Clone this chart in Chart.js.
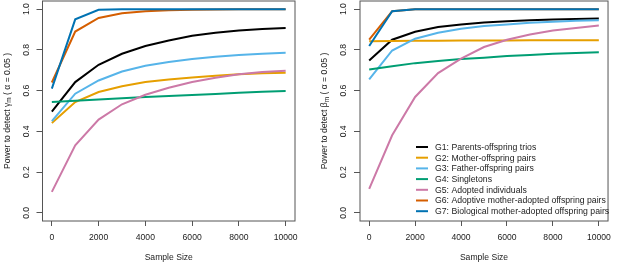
<html>
<head>
<title>Power curves</title>
<script src="https://cdn.jsdelivr.net/npm/chart.js"></script>
<style>
  body { margin: 0; background: #fff; }
  .panel { position: absolute; top: 0; height: 266px; }
  #left { left: 0; width: 308px; }
  #right { left: 308px; width: 309px; }
</style>
</head>
<body>
<div class="panel" id="left"><canvas id="chartGamma"></canvas></div>
<div class="panel" id="right"><canvas id="chartBeta"></canvas></div>
<script>
// sample sizes on the x axis
const sampleSizes = [0, 1000, 2000, 3000, 4000, 5000, 6000, 7000, 8000, 9000, 10000]
const xTicks = [0, 2000, 4000, 6000, 8000, 10000]
const yTicks = [0, 0.2, 0.4, 0.6, 0.8, 1.0]

const groupNames = [
  'G1: Parents-offspring trios',
  'G2: Mother-offspring pairs',
  'G3: Father-offspring pairs',
  'G4: Singletons',
  'G5: Adopted individuals',
  'G6: Adoptive mother-adopted offspring pairs',
  'G7: Biological mother-adopted offspring pairs'
]
const groupColors = ['#000000', '#E69F00', '#56B4E9', '#009E73', '#CC79A7', '#D55E00', '#0072B2']

// power to detect gamma_m (left)
const gammaG1 = [0.497, 0.642, 0.727, 0.781, 0.819, 0.846, 0.869, 0.884, 0.895, 0.903, 0.908]
const gammaG2 = [0.441, 0.544, 0.593, 0.621, 0.642, 0.655, 0.665, 0.673, 0.680, 0.685, 0.688]
const gammaG3 = [0.450, 0.585, 0.650, 0.694, 0.722, 0.740, 0.755, 0.766, 0.775, 0.781, 0.786]
const gammaG4 = [0.544, 0.550, 0.557, 0.563, 0.569, 0.574, 0.579, 0.584, 0.589, 0.594, 0.598]
const gammaG5 = [0.103, 0.332, 0.458, 0.533, 0.580, 0.614, 0.642, 0.663, 0.680, 0.691, 0.698]
const gammaG6 = [0.640, 0.890, 0.957, 0.980, 0.990, 0.995, 0.997, 0.998, 0.999, 1.000, 1.000]
const gammaG7 = [0.610, 0.950, 0.997, 1.000, 1.000, 1.000, 1.000, 1.000, 1.000, 1.000, 1.000]

// power to detect beta_m (right)
const betaG1 = [0.748, 0.850, 0.889, 0.912, 0.925, 0.935, 0.941, 0.946, 0.949, 0.952, 0.954]
const betaG2 = [0.843, 0.844, 0.845, 0.845, 0.846, 0.846, 0.846, 0.847, 0.847, 0.847, 0.847]
const betaG3 = [0.655, 0.797, 0.855, 0.884, 0.904, 0.917, 0.925, 0.933, 0.938, 0.943, 0.946]
const betaG4 = [0.704, 0.720, 0.735, 0.745, 0.755, 0.762, 0.770, 0.775, 0.781, 0.785, 0.789]
const betaG5 = [0.118, 0.381, 0.569, 0.686, 0.757, 0.814, 0.850, 0.876, 0.895, 0.908, 0.920]
const betaG6 = [0.850, 0.990, 1.000, 1.000, 1.000, 1.000, 1.000, 1.000, 1.000, 1.000, 1.000]
const betaG7 = [0.819, 0.990, 1.000, 1.000, 1.000, 1.000, 1.000, 1.000, 1.000, 1.000, 1.000]

const FONT = '"Liberation Sans", Arial, sans-serif'
const BOX = '#555'

function makeDatasets(series) {
  return series.map((vals, i) => ({
    label: groupNames[i],
    data: vals.map((v, j) => ({ x: sampleSizes[j], y: v })),
    borderColor: groupColors[i],
    borderWidth: 2,
    pointRadius: 0,
    tension: 0,
    fill: false,
    order: series.length - i
  }))
}

// box, rotated y tick labels, y title (with greek + subscript), optional legend
function decorPlugin(greek, withLegend) {
  return {
    id: 'decor',
    afterDraw(chart) {
      const ctx = chart.ctx
      const a = chart.chartArea
      const ys = chart.scales.y
      ctx.save()
      ctx.strokeStyle = BOX
      ctx.lineWidth = 1
      ctx.strokeRect(a.left, a.top, a.right - a.left, a.bottom - a.top)

      ctx.fillStyle = '#222'
      ctx.font = '8.6px ' + FONT
      ctx.textAlign = 'center'
      ctx.textBaseline = 'middle'
      yTicks.forEach(v => {
        ctx.save()
        ctx.translate(a.left - 16, ys.getPixelForValue(v))
        ctx.rotate(-Math.PI / 2)
        ctx.fillText(v.toFixed(1), 0, 0)
        ctx.restore()
      })

      // y title
      const parts = [
        { t: 'Power to detect ', f: '8.6px ' + FONT, dy: 0 },
        { t: greek, f: '8.6px ' + FONT, dy: 0 },
        { t: 'm', f: '6.4px ' + FONT, dy: 2 },
        { t: ' ( \u03b1 = 0.05 )', f: '8.6px ' + FONT, dy: 0 }
      ]
      let total = 0
      parts.forEach(p => { ctx.font = p.f; p.w = ctx.measureText(p.t).width; total += p.w })
      ctx.save()
      ctx.translate(a.left - 35, (a.top + a.bottom) / 2)
      ctx.rotate(-Math.PI / 2)
      ctx.textAlign = 'left'
      ctx.textBaseline = 'middle'
      let x = -total / 2
      parts.forEach(p => { ctx.font = p.f; ctx.fillText(p.t, x, p.dy); x += p.w })
      ctx.restore()

      if (withLegend) {
        const lx = 416 - 308, ty = 147, step = 10.7
        ctx.textAlign = 'left'
        ctx.font = '8.7px ' + FONT
        groupNames.forEach((name, i) => {
          const y = ty + i * step
          ctx.strokeStyle = groupColors[i]
          ctx.lineWidth = 2
          ctx.beginPath()
          ctx.moveTo(lx, y)
          ctx.lineTo(lx + 12, y)
          ctx.stroke()
          ctx.fillStyle = '#222'
          ctx.fillText(name, lx + 19, y + 0.5)
        })
      }
      ctx.restore()
    }
  }
}

function makeChart(id, series, greek, yWidth, rightPad, withLegend) {
  return new Chart(document.getElementById(id), {
    type: 'line',
    data: { datasets: makeDatasets(series) },
    options: {
      responsive: true,
      maintainAspectRatio: false,
      animation: false,
      layout: { padding: { left: 0, right: rightPad, top: 1, bottom: 0 } },
      plugins: { legend: { display: false }, tooltip: { enabled: false } },
      scales: {
        x: {
          type: 'linear',
          min: -400,
          max: 10400,
          afterBuildTicks: s => { s.ticks = xTicks.map(v => ({ value: v })) },
          afterFit: s => { s.height = 45 },
          grid: { drawOnChartArea: false, drawTicks: true, tickLength: 5, color: BOX },
          border: { display: false },
          ticks: { font: { family: FONT, size: 8.6 }, color: '#222', padding: 6, maxRotation: 0, callback: v => String(v) },
          title: { display: true, text: 'Sample Size', font: { family: FONT, size: 8.6 }, color: '#222', padding: { top: 0, bottom: 3 } }
        },
        y: {
          type: 'linear',
          min: -0.04,
          max: 1.04,
          afterBuildTicks: s => { s.ticks = yTicks.map(v => ({ value: v })) },
          afterFit: s => { s.width = yWidth },
          grid: { drawOnChartArea: false, drawTicks: true, tickLength: 6, color: BOX },
          border: { display: false },
          ticks: { display: false }
        }
      }
    },
    plugins: [decorPlugin(greek, withLegend)]
  })
}

makeChart('chartGamma', [gammaG1, gammaG2, gammaG3, gammaG4, gammaG5, gammaG6, gammaG7], '\u03b3', 42.5, 13, false)
makeChart('chartBeta', [betaG1, betaG2, betaG3, betaG4, betaG5, betaG6, betaG7], '\u03b2', 52, 5.7, true)
</script>
</body>
</html>
